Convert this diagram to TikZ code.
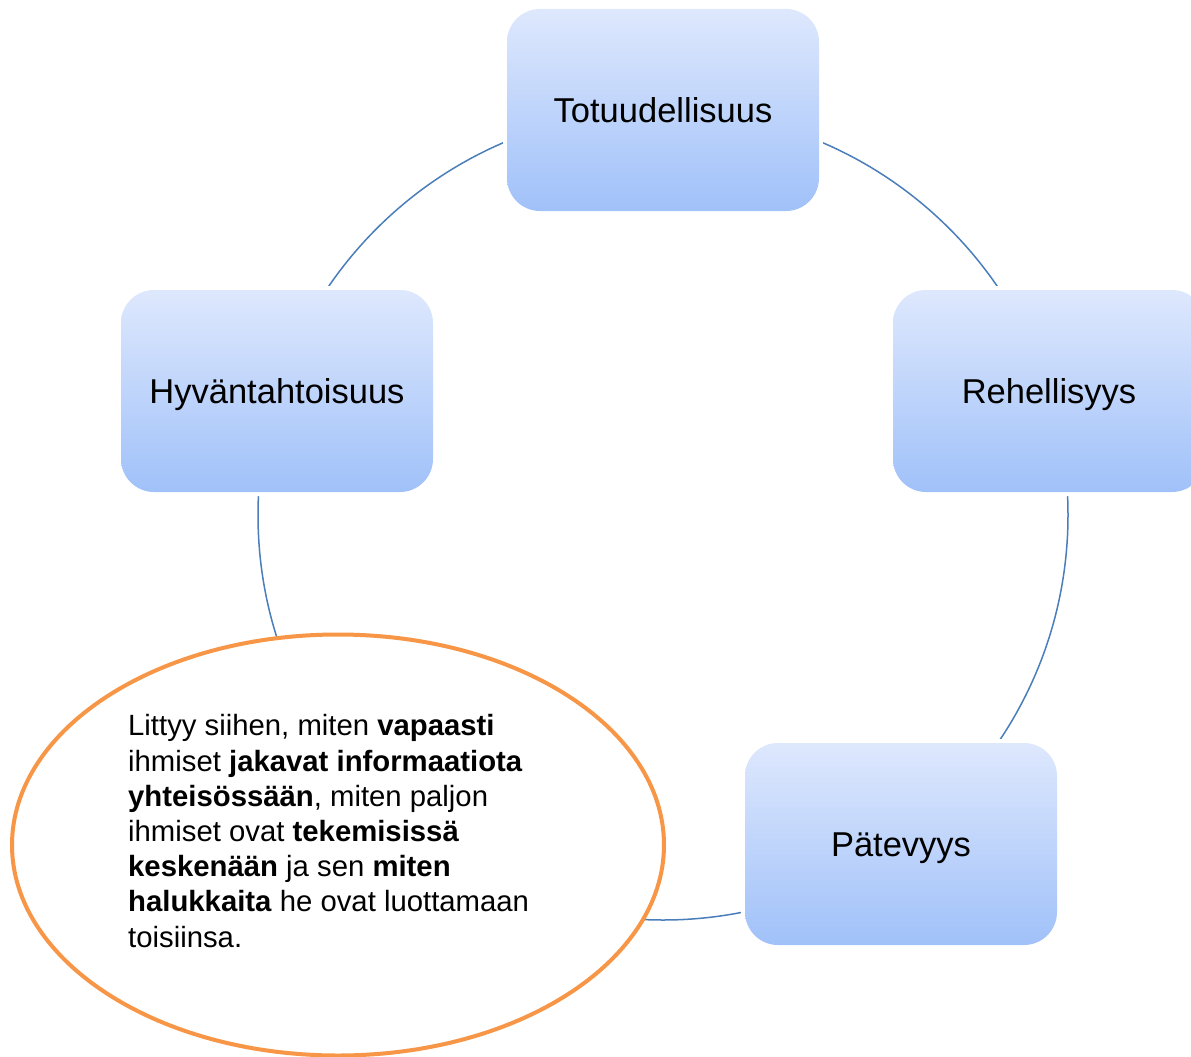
\documentclass[tikz,border=0pt]{standalone}
\usepackage{fontspec}
\setmainfont{Liberation Sans}
\usetikzlibrary{shapes.geometric}
\definecolor{boxtop}{HTML}{DEE8FD}
\definecolor{boxbot}{HTML}{A0C1F9}
\definecolor{ringblue}{HTML}{4A7EBB}
\definecolor{ovalorange}{HTML}{F79646}
\begin{document}
\begin{tikzpicture}[x=1pt,y=-1pt,
  gapbox/.style={fill=white, rounded corners=36pt, minimum width=320pt, minimum height=210pt, inner sep=0pt, draw=none},
  stepbox/.style={rounded corners=33pt, minimum width=312pt, minimum height=202pt, inner sep=0pt,
     top color=boxtop, bottom color=boxbot, draw=none,
     font=\fontsize{34.5}{40}\selectfont, text height=24pt, text depth=0pt},
  ring/.style={draw=ringblue, line width=1.5pt},
  oval/.style={ellipse, draw=ovalorange, line width=4pt, fill=white, minimum width=652pt, minimum height=421pt, inner sep=0pt},
  txt/.style={anchor=base west, inner sep=0pt, font=\fontsize{29.3}{35}\selectfont}
]
\clip (0,0) rectangle (1191,1057);
\fill[white] (0,0) rectangle (1191,1057);
% ring
\coordinate (c) at (663,515);
\draw[ring] (c) circle[radius=405pt];
% gaps around boxes
\node[gapbox] (g1) at (663,110) {};
\node[gapbox] (g2) at (277,391) {};
\node[gapbox] (g3) at (1049,391) {};
\node[gapbox] (g4) at (901,844) {};
% boxes
\node[stepbox] (tot) at (663,110) {Totuudellisuus};
\node[stepbox] (hyv) at (277,391) {Hyväntahtoisuus};
\node[stepbox] (reh) at (1049,391) {Rehellisyys};
\node[stepbox] (pat) at (901,844) {Pätevyys};
% oval
\node[oval] (ov) at (338,845) {};
\node[txt] (l1) at (128,735) {Littyy siihen, miten \textbf{vapaasti}};
\node[txt] (l2) at (128,771) {ihmiset \textbf{jakavat informaatiota}};
\node[txt] (l3) at (128,806) {\textbf{yhteisössään}, miten paljon};
\node[txt] (l4) at (128,841) {ihmiset ovat \textbf{tekemisissä}};
\node[txt] (l5) at (128,876) {\textbf{keskenään} ja sen \textbf{miten}};
\node[txt] (l6) at (128,911) {\textbf{halukkaita} he ovat luottamaan};
\node[txt] (l7) at (128,947) {toisiinsa.};
\end{tikzpicture}
\end{document}
